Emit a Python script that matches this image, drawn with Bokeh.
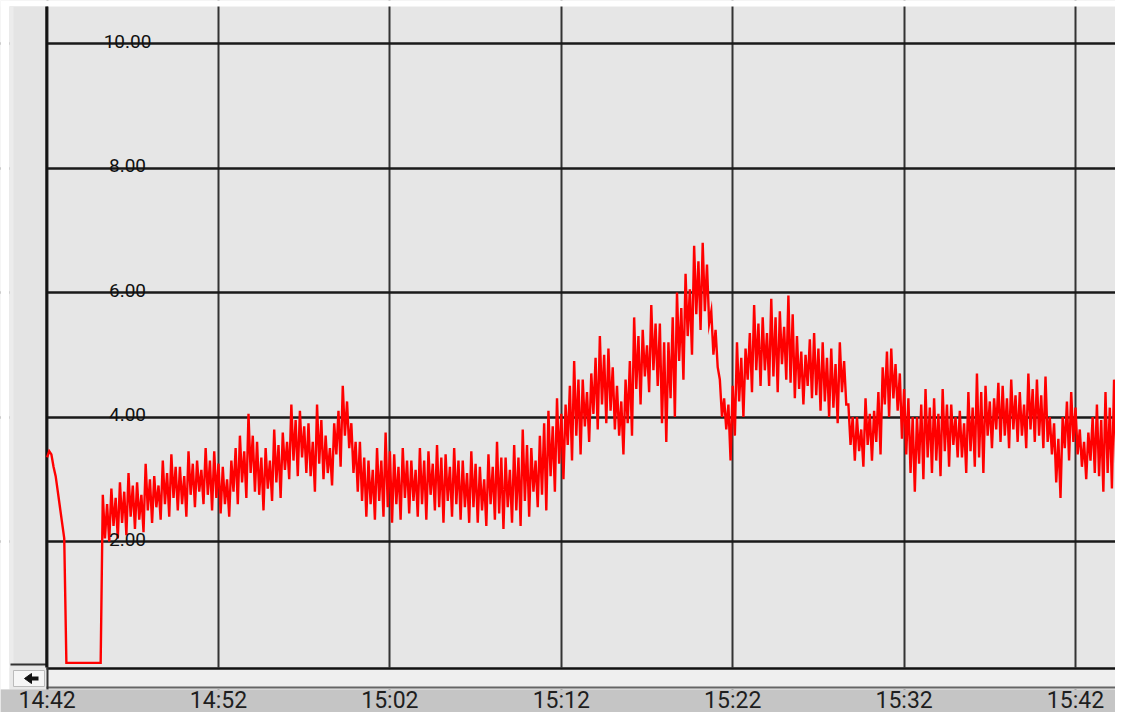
from bokeh.plotting import figure
from bokeh.models import Range1d, FixedTicker
from bokeh.core.properties import value
from bokeh.embed import file_html
from bokeh.resources import INLINE

# ---------------- data ----------------
# recorder readings, one every 7.5 s, starting at 14:42:00
sample_step_min = 0.125
signal = [
    3.35, 3.45, 3.40, 3.20, 3.05, 2.80, 2.55, 2.30, 2.05, 0.05,
    0.05, 0.05, 0.05, 0.05, 0.05, 0.05, 0.05, 0.05, 0.05, 0.05,
    0.05, 0.05, 0.05, 0.05, 0.05, 0.05,
    2.75, 2.05, 2.60, 2.00, 2.85, 2.25, 2.70, 2.05, 2.95, 2.30, 2.80, 2.10,
    3.10, 2.40, 2.90, 2.20, 2.95, 2.35, 2.75, 2.15, 3.25, 2.50, 3.00, 2.30,
    3.05, 2.55, 2.90, 2.35, 3.30, 2.60, 3.10, 2.40, 3.40, 2.70, 3.20, 2.50,
    3.20, 2.60, 3.05, 2.40, 3.45, 2.75, 3.25, 2.55, 3.30, 2.80, 3.15, 2.60,
    3.50, 2.75, 3.30, 2.50, 3.45, 2.70, 3.25, 2.45, 3.20, 2.60, 3.00, 2.40,
    3.30, 2.80, 3.50, 2.60, 3.70, 2.95, 3.45, 2.70, 4.05, 3.10, 3.70, 2.80,
    3.60, 2.75, 3.35, 2.50, 3.50, 2.85, 3.30, 2.65, 3.80, 2.95, 3.55, 2.70,
    3.75, 3.15, 3.60, 3.00, 4.20, 3.30, 3.95, 3.05, 4.10, 3.35, 3.85, 3.10,
    3.90, 3.05, 3.60, 2.80, 4.20, 3.25, 3.95, 3.00, 3.70, 3.10, 3.50, 2.90,
    3.90, 3.40, 4.10, 3.20, 4.50, 3.70, 4.25, 3.50, 3.90, 3.10, 3.60, 2.80,
    3.60, 2.65, 3.35, 2.40, 3.30, 2.60, 3.15, 2.35, 3.50, 2.65, 3.30, 2.40,
    3.75, 2.55, 3.45, 2.30, 3.40, 2.60, 3.20, 2.35, 3.50, 2.70, 3.30, 2.45,
    3.30, 2.65, 3.15, 2.40, 3.50, 2.60, 3.30, 2.35, 3.45, 2.75, 3.25, 2.50,
    3.55, 2.55, 3.35, 2.30, 3.40, 2.65, 3.20, 2.40, 3.50, 2.60, 3.30, 2.35,
    3.30, 2.55, 3.10, 2.30, 3.45, 2.55, 3.25, 2.30, 3.20, 2.50, 3.00, 2.25,
    3.40, 2.60, 3.20, 2.35, 3.60, 2.45, 3.35, 2.20, 3.35, 2.55, 3.15, 2.30,
    3.55, 2.50, 3.35, 2.25, 3.80, 2.65, 3.55, 2.40, 3.50, 2.80, 3.30, 2.55,
    3.70, 2.75, 3.90, 2.50, 4.10, 3.05, 3.85, 2.80, 4.30, 3.25, 4.05, 3.00,
    4.20, 3.55, 4.50, 3.30, 4.90, 3.70, 4.60, 3.40, 4.60, 3.85, 4.40, 3.60,
    4.70, 4.05, 4.95, 3.80, 5.30, 4.20, 5.00, 3.90, 5.10, 4.10, 4.80, 3.80,
    4.50, 3.70, 4.25, 3.40, 4.60, 3.90, 4.90, 3.70, 5.60, 4.45, 5.30, 4.20,
    5.40, 4.65, 5.15, 4.40, 5.80, 4.75, 5.50, 4.50, 5.50, 3.90, 5.20, 3.60,
    5.20, 4.30, 5.60, 4.00, 6.00, 4.90, 5.75, 4.60, 6.30, 5.30, 6.05, 5.00,
    6.75, 5.65, 6.50, 5.40, 6.80, 5.70, 6.45, 5.50, 5.70, 5.00, 5.40, 4.80,
    4.60, 4.00, 4.30, 3.80, 4.20, 3.30, 4.50, 3.70, 5.20, 4.25, 4.95, 4.00,
    5.10, 4.60, 5.35, 4.40, 5.80, 4.75, 5.50, 4.50, 5.60, 4.75, 5.35, 4.50,
    5.90, 4.65, 5.60, 4.40, 5.70, 4.85, 5.45, 4.60, 5.95, 4.55, 5.65, 4.30,
    5.30, 4.45, 5.05, 4.20, 5.00, 4.50, 5.25, 4.30, 5.35, 4.35, 5.10, 4.10,
    5.20, 4.25, 4.95, 4.00, 5.10, 4.15, 4.85, 3.90, 5.20, 4.40, 4.90, 4.20,
    4.20, 3.55, 4.00, 3.30, 4.00, 3.45, 3.80, 3.20, 4.30, 3.55, 4.05, 3.30,
    4.10, 3.60, 4.40, 3.40, 4.80, 4.20, 5.05, 4.00, 5.10, 4.30, 4.85, 4.10,
    4.70, 3.65, 4.45, 3.40, 4.30, 3.10, 4.00, 2.80, 4.00, 3.25, 4.20, 3.00,
    4.45, 3.35, 4.15, 3.10, 4.30, 3.30, 4.05, 3.05, 4.45, 3.45, 4.20, 3.20,
    4.20, 3.55, 4.00, 3.35, 4.10, 3.35, 3.90, 3.10, 4.40, 3.45, 4.15, 3.20,
    4.70, 3.35, 4.40, 3.10, 4.50, 3.70, 4.25, 3.50, 4.30, 3.80, 4.55, 3.60,
    4.50, 3.70, 4.30, 3.50, 4.60, 3.80, 4.35, 3.60, 4.40, 3.70, 4.20, 3.50,
    4.70, 3.80, 4.45, 3.60, 4.60, 3.70, 4.35, 3.50, 4.65, 3.60, 4.00, 3.40,
    3.90, 2.95, 3.65, 2.70, 4.00, 3.50, 4.25, 3.30, 4.40, 3.60, 4.15, 3.40,
    3.80, 3.20, 3.60, 3.00, 3.75, 3.30, 4.00, 3.10, 4.20, 3.05, 3.95, 2.80,
    4.40, 3.10, 4.15, 2.85, 4.60, 3.25, 4.35, 3.00, 4.66, 3.40, 4.40, 3.20,
]
x_tick_minutes = [0, 10, 20, 30, 40, 50, 60]
x_tick_labels = ["14:42", "14:52", "15:02", "15:12", "15:22", "15:32", "15:42"]
y_ticks = [2, 4, 6, 8, 10]
y_tick_labels = ["2.00", "4.00", "6.00", "8.00", "10.00"]

# ---------------- layout helpers ----------------
W, H = 1115, 712
PX_PER_MIN = 17.14
PX_PER_UNIT = 62.25
X0 = 46.6      # pixel of 14:42
Y0 = 669.5     # pixel of value 0 (before the small vertical shift)
DY = 4         # vertical shift of the whole chart


def tx(px):
    return (px - X0) / PX_PER_MIN


def vy(py):
    return (Y0 - (py + DY)) / PX_PER_UNIT


times = [i * sample_step_min for i in range(len(signal))]

p = figure(
    width=W, height=H,
    x_range=Range1d(tx(0), tx(W)),
    y_range=Range1d(vy(H), vy(0)),
    output_backend="svg", toolbar_location=None,
    x_axis_location=None, y_axis_location=None,
    min_border=0, min_border_left=0, min_border_right=0,
    min_border_top=0, min_border_bottom=0,
    outline_line_color=None,
    background_fill_color="#e6e6e6", border_fill_color="white",
)

p.xgrid.ticker = FixedTicker(ticks=x_tick_minutes)
p.ygrid.ticker = FixedTicker(ticks=y_ticks)
p.xgrid.grid_line_color = "#333333"
p.xgrid.grid_line_width = 2
p.ygrid.grid_line_color = "#1a1a1a"
p.ygrid.grid_line_width = 2.5


# window chrome (decoration only)
def box(x0, x1, y0, y1, fill, line=None):
    p.quad(left=[tx(x0)], right=[tx(x1)], top=[vy(y0)], bottom=[vy(y1)],
           fill_color=fill, line_color=line)


def hline(x0, x1, y, color, w):
    p.segment(x0=[tx(x0)], x1=[tx(x1)], y0=[vy(y)], y1=[vy(y)], line_color=color, line_width=w)


def vline(x, y0, y1, color, w):
    p.segment(x0=[tx(x)], x1=[tx(x)], y0=[vy(y0)], y1=[vy(y1)], line_color=color, line_width=w)


box(0, W, 0, 6, "white")
box(0, 9, 0, 689, "white")
box(9, 46, 6, 664, "#e4e4e4")
box(9, 13, 6, 664, "#ececec")
hline(10, 46, 664, "#333333", 2)
vline(46, 6, 668, "#111111", 2.5)

box(9, W, 667, 689, "#e9e9e9")
box(47, W, 669, 686, "#efefef")
hline(46, W, 668, "#111111", 2.5)
hline(46, W, 687, "#666666", 2)
vline(47, 667, 689, "#333333", 2)
box(13, 44, 670, 686, "#f6f6f6", "#bbbbbb")
p.patch(x=[tx(24), tx(31), tx(31)], y=[vy(678), vy(673), vy(683)],
        fill_color="#111111", line_color="#111111")
box(30, 38, 676, 680, "#111111")

box(0, W, 689, H, "#c5c5c5")

# the signal
p.line(times, signal, line_color="#ff0000", line_width=2.4, line_join="miter")

# tick labels
p.text(x=x_tick_minutes, y=[vy(699.5)] * len(x_tick_minutes), text=x_tick_labels,
       text_font=value("Roboto"), text_font_size="23px",
       text_align="center", text_baseline="middle", text_color="#1e1e1e")
p.text(x=[tx(127)] * len(y_ticks), y=[t + 2.5 / PX_PER_UNIT for t in y_ticks], text=y_tick_labels,
       text_font=value("Roboto"), text_font_size="19px",
       text_align="center", text_baseline="alphabetic", text_color="#111111")

open("out.html", "w").write(file_html(p, INLINE))
